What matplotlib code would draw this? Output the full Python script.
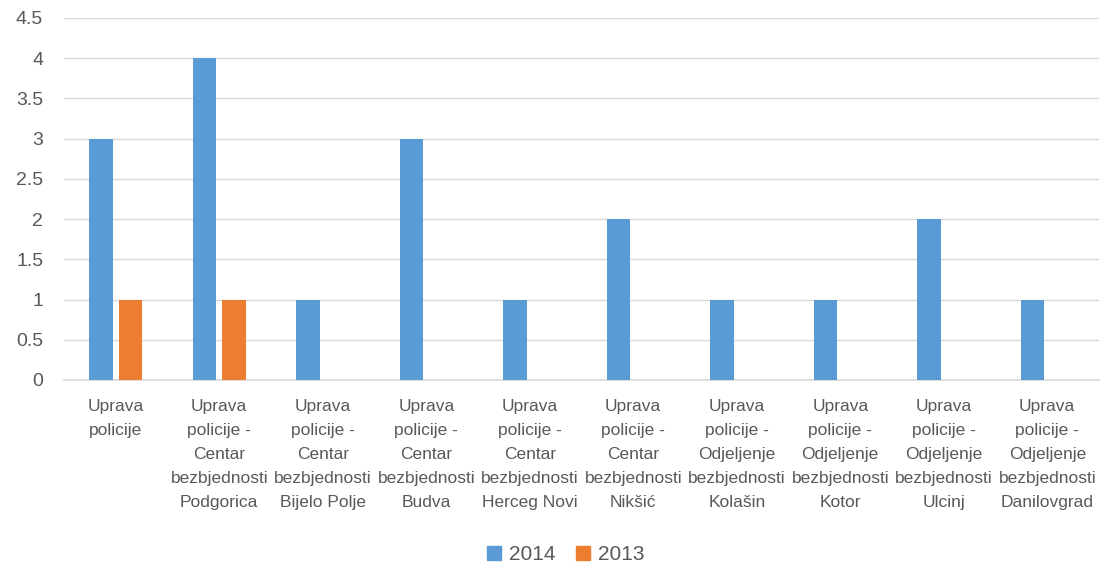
import numpy as np
import matplotlib.pyplot as plt
from matplotlib.patches import Patch

categories = [
    'Uprava\npolicije',
    'Uprava\npolicije -\nCentar\nbezbjednosti\nPodgorica',
    'Uprava\npolicije -\nCentar\nbezbjednosti\nBijelo Polje',
    'Uprava\npolicije -\nCentar\nbezbjednosti\nBudva',
    'Uprava\npolicije -\nCentar\nbezbjednosti\nHerceg Novi',
    'Uprava\npolicije -\nCentar\nbezbjednosti\nNikšić',
    'Uprava\npolicije -\nOdjeljenje\nbezbjednosti\nKolašin',
    'Uprava\npolicije -\nOdjeljenje\nbezbjednosti\nKotor',
    'Uprava\npolicije -\nOdjeljenje\nbezbjednosti\nUlcinj',
    'Uprava\npolicije -\nOdjeljenje\nbezbjednosti\nDanilovgrad',
]
values_2014 = [3, 4, 1, 3, 1, 2, 1, 1, 2, 1]
values_2013 = [1, 1, 0, 0, 0, 0, 0, 0, 0, 0]
series_labels = ['2014', '2013']
yticks = [0, 0.5, 1, 1.5, 2, 2.5, 3, 3.5, 4, 4.5]

BLUE = '#5B9BD5'
ORANGE = '#ED7D31'
TEXT = '#595959'
GRID = '#D9D9D9'
FONT = ['Liberation Sans', 'DejaVu Sans']

fig = plt.figure(figsize=(11.01, 5.66), dpi=100)
ax = fig.add_axes([64 / 1101, 186 / 566, 1035 / 1101, 362 / 566])

x = np.arange(len(categories))
w = 0.225
off = 0.142
ax.bar(x - off, values_2014, w, color=BLUE, zorder=3)
# 2013 only has non-zero bars where drawn
v13 = np.array(values_2013, dtype=float)
mask = v13 > 0
ax.bar(x[mask] + off, v13[mask], w, color=ORANGE, zorder=3)

ax.set_xlim(-0.5, len(categories) - 0.5)
ax.set_ylim(0, 4.5)
ax.set_yticks(yticks)
ax.set_yticklabels([f'{t:g}' for t in yticks], fontsize=14, color=TEXT, family=FONT)
ax.yaxis.grid(True, color=GRID, linewidth=1, zorder=0)
ax.set_xticks(x)
ax.set_xticklabels(categories, fontsize=12.5, color=TEXT, linespacing=1.75, family=FONT)
ax.tick_params(axis='both', length=0)
ax.tick_params(axis='x', pad=14)
ax.tick_params(axis='y', pad=15)
for s in ['top', 'right', 'left']:
    ax.spines[s].set_visible(False)
ax.spines['bottom'].set_color(GRID)
ax.spines['bottom'].set_linewidth(1.2)

handles = [Patch(color=BLUE, label=series_labels[0]),
           Patch(color=ORANGE, label=series_labels[1])]
fig.legend(handles=handles, loc='center', bbox_to_anchor=(566 / 1101, 1 - 555 / 566),
           ncol=2, frameon=False, handlelength=0.65, handleheight=0.65,
           handletextpad=0.4, columnspacing=1.0,
           prop={'family': FONT, 'size': 15}, labelcolor=TEXT)

fig.savefig('out.png', dpi=100)
